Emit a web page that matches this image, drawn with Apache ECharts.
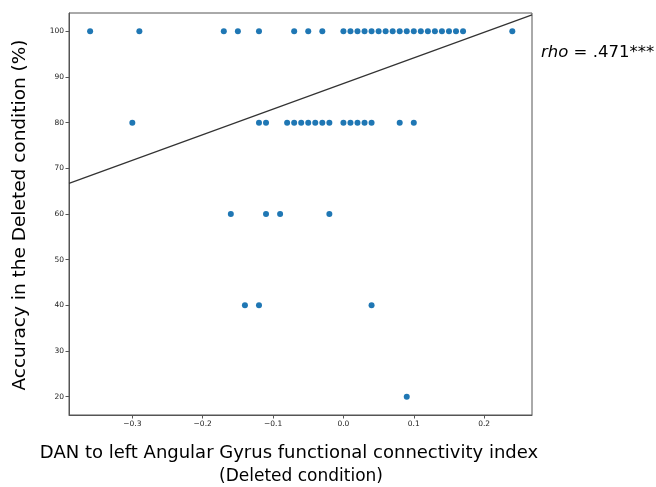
<!DOCTYPE html>
<html><head><meta charset="utf-8">
<script src="https://cdn.jsdelivr.net/npm/echarts@6/dist/echarts.min.js"></script>
<style>html,body{margin:0;padding:0;background:#fff}#c{width:656px;height:487px}</style>
</head><body><div id="c"></div>
<script>
const xRow100 = [-0.36,-0.29,-0.17,-0.15,-0.12,-0.07,-0.05,-0.03,0.00,0.01,0.02,0.03,0.04,0.05,0.06,0.07,0.08,0.09,0.10,0.11,0.12,0.13,0.14,0.15,0.16,0.17,0.24];
const xRow80 = [-0.30,-0.12,-0.11,-0.08,-0.07,-0.06,-0.05,-0.04,-0.03,-0.02,0.00,0.01,0.02,0.03,0.04,0.08,0.10];
const xRow60 = [-0.16,-0.11,-0.09,-0.02];
const xRow40 = [-0.14,-0.12,0.04];
const xRow20 = [0.09];
const rowLevels = [100,80,60,40,20];
const fitX = [-0.39, 0.268];
const fitY = [66.7, 103.6];
const xTicks = [-0.3,-0.2,-0.1,0.0,0.1,0.2];
const yTicks = [20,30,40,50,60,70,80,90,100];
const xRange = [-0.39, 0.268];
const yRange = [16, 104];

const rows = [xRow100,xRow80,xRow60,xRow40,xRow20];
const pts = [];
rows.forEach((r,i)=>r.forEach(x=>pts.push([x,rowLevels[i]])));
const fitData = fitX.map((x,i)=>[x,fitY[i]]);

const chart = echarts.init(document.getElementById('c'));
const tickFont = {fontFamily:'DejaVu Sans', fontSize:7.5, color:'#222'};
chart.setOption({
  animation:false,
  grid:{left:69,right:124,top:13,bottom:72,show:true,borderColor:'#555',borderWidth:1},
  xAxis:{type:'value',min:xRange[0],max:xRange[1],
    axisLine:{show:true,onZero:false,lineStyle:{color:'#555'}},
    axisTick:{show:true,length:3.5,customValues:xTicks,lineStyle:{color:'#555'}},
    axisLabel:Object.assign({customValues:xTicks,margin:5,formatter:v=>v.toFixed(1).replace('-','\u2212')},tickFont),
    splitLine:{show:false}},
  yAxis:{type:'value',min:yRange[0],max:yRange[1],
    axisLine:{show:true,onZero:false,lineStyle:{color:'#555'}},
    axisTick:{show:true,length:3.5,customValues:yTicks,lineStyle:{color:'#555'}},
    axisLabel:Object.assign({customValues:yTicks,margin:5},tickFont),
    splitLine:{show:false}},
  series:[
    {type:'scatter',data:pts,symbolSize:6,itemStyle:{color:'#1f77b4',opacity:1},z:3},
    {type:'line',data:fitData,showSymbol:false,symbol:'none',lineStyle:{color:'#333',width:1.2},clip:true,z:2}
  ],
  graphic:[
    {type:'text',style:{text:'DAN to left Angular Gyrus functional connectivity index',x:289,y:453,align:'center',verticalAlign:'middle',font:'18px "DejaVu Sans"',fill:'#000'}},
    {type:'text',style:{text:'(Deleted condition)',x:301,y:477,align:'center',verticalAlign:'middle',font:'17px "DejaVu Sans"',fill:'#000'}},
    {type:'text',rotation:Math.PI/2,x:20,y:215,style:{text:'Accuracy in the Deleted condition (%)',x:0,y:0,align:'center',verticalAlign:'middle',font:'18.5px "DejaVu Sans"',fill:'#000'}},
    {type:'text',x:541,y:53,style:{rich:{i:{fontStyle:'italic',font:'italic 16.5px "DejaVu Sans"',fill:'#000'},n:{font:'16.5px "DejaVu Sans"',fill:'#000'}},text:'{i|rho}{n| = .471***}',verticalAlign:'middle',align:'left'}}
  ]
});
</script></body></html>
